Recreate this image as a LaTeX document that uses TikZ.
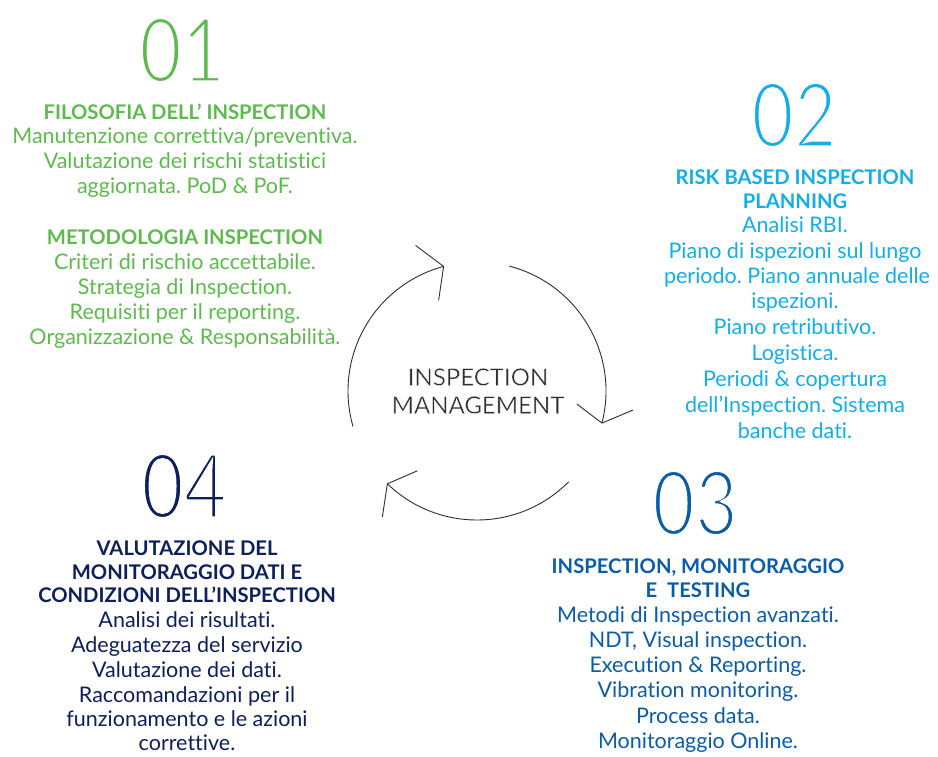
\documentclass[tikz,border=0pt]{standalone}
\usepackage{fontspec}
\setmainfont{Lato}[Ligatures={TeX,NoCommon}]
\frenchspacing
\definecolor{cgreen}{HTML}{5DBB4D}
\definecolor{ccyan}{HTML}{12AEEB}
\definecolor{cblue}{HTML}{0A5CAA}
\definecolor{cnavy}{HTML}{0D1F5C}
\definecolor{cgray}{HTML}{2E2E2E}
\newcommand\erode[2]{\special{pdf:literal direct 2 Tr 1 1 1 RG #1 w}#2\special{pdf:literal direct 0 Tr}}
\tikzset{
  ln/.style={anchor=mid, inner sep=0pt, font=\fontsize{21.5}{24}\selectfont},
  hd/.style={anchor=mid, inner sep=0pt, font=\fontsize{20.2}{24}\selectfont\bfseries},
  num/.style={anchor=center, inner sep=0pt, font=\fontsize{90}{90}\selectfont},
  cyc/.style={draw=cgray, line width=0.9pt},
  ctr/.style={anchor=mid, inner sep=0pt, text=cgray, font=\fontsize{24}{28}\selectfont}
}
\begin{document}
\begin{tikzpicture}[x=1pt,y=1pt]
\useasboundingbox (0,0) rectangle (938,-756);
% cycle
\coordinate (c) at (477,-391);
\draw[cyc] (c) ++(75.5:129) arc[start angle=75.5, end angle=-14.4, radius=129] coordinate (t1);
\draw[cyc] (t1) -- ++(-25,19) (t1) -- ++(31,13);
\draw[cyc] (c) ++(-44.7:129) arc[start angle=-44.7, end angle=-134, radius=129] coordinate (t2);
\draw[cyc] (t2) -- ++(30,13) (t2) -- ++(-5,-33);
\draw[cyc] (c) ++(196:129) arc[start angle=196, end angle=105, radius=129] coordinate (t3);
\draw[cyc] (t3) -- ++(-28,21) (t3) -- ++(-5,-34);
\node[ctr] (cm1) at (478,-383) {\erode{0.4}{INSPECTION}};
\node[ctr] (cm2) at (478,-411) {\erode{0.4}{MANAGEMENT}};
% block 1
\begin{scope}[text=cgreen]
\node[num] (n1) at (182,-50) {\scalebox{0.82}[1]{\erode{3.8}{01}}};
\node[hd] (a1) at (185,-117) {FILOSOFIA DELL’ INSPECTION};
\node[ln] (a2) at (185,-141) {Manutenzione correttiva/preventiva.};
\node[ln] (a3) at (185,-166) {Valutazione dei rischi statistici};
\node[ln] (a4) at (185,-191) {aggiornata. PoD \& PoF.};
\node[hd] (a5) at (185,-242) {METODOLOGIA INSPECTION};
\node[ln] (a6) at (185,-267) {Criteri di rischio accettabile.};
\node[ln] (a7) at (185,-292) {Strategia di Inspection.};
\node[ln] (a8) at (185,-317) {Requisiti per il reporting.};
\node[ln] (a9) at (185,-342) {Organizzazione \& Responsabilità.};
\end{scope}
% block 2
\begin{scope}[text=ccyan]
\node[num] (n2) at (794,-115) {\scalebox{0.82}[1]{\erode{3.8}{02}}};
\node[hd] (b1) at (795,-182) {RISK BASED INSPECTION};
\node[hd] (b2) at (795,-206) {PLANNING};
\node[ln] (b3) at (795,-230) {Analisi RBI.};
\node[ln] (b4) at (795,-256) {Piano di ispezioni sul lungo};
\node[ln] (b5) at (797,-281) {periodo. Piano annuale delle};
\node[ln] (b6) at (795,-306) {ispezioni.};
\node[ln] (b7) at (795,-332) {Piano retributivo.};
\node[ln] (b8) at (795,-358) {Logistica.};
\node[ln] (b9) at (795,-384) {Periodi \& copertura};
\node[ln] (b10) at (795,-410) {dell’Inspection. Sistema};
\node[ln] (b11) at (795,-436) {banche dati.};
\end{scope}
% block 3
\begin{scope}[text=cblue]
\node[num] (n3) at (695,-503) {\scalebox{0.82}[1]{\erode{3.8}{03}}};
\node[hd] (c1) at (698,-571) {INSPECTION, MONITORAGGIO};
\node[hd] (c2) at (698,-595) {E\ \ TESTING};
\node[ln] (c3) at (698,-620) {Metodi di Inspection avanzati.};
\node[ln] (c4) at (698,-645) {NDT, Visual inspection.};
\node[ln] (c5) at (698,-670) {Execution \& Reporting.};
\node[ln] (c6) at (698,-695) {Vibration monitoring.};
\node[ln] (c7) at (698,-721) {Process data.};
\node[ln] (c8) at (698,-746) {Monitoraggio Online.};
\end{scope}
% block 4
\begin{scope}[text=cnavy]
\node[num] (n4) at (184,-486) {\scalebox{0.82}[1]{\erode{3.8}{04}}};
\node[hd] (d1) at (187,-553) {VALUTAZIONE DEL};
\node[hd] (d2) at (187,-577) {MONITORAGGIO DATI E};
\node[hd] (d3) at (187,-600) {CONDIZIONI DELL'INSPECTION};
\node[ln] (d4) at (187,-625) {Analisi dei risultati.};
\node[ln] (d5) at (187,-650) {Adeguatezza del servizio};
\node[ln] (d6) at (187,-675) {Valutazione dei dati.};
\node[ln] (d7) at (187,-700) {Raccomandazioni per il};
\node[ln] (d8) at (187,-724) {funzionamento e le azioni};
\node[ln] (d9) at (187,-748) {correttive.};
\end{scope}
\end{tikzpicture}
\end{document}
